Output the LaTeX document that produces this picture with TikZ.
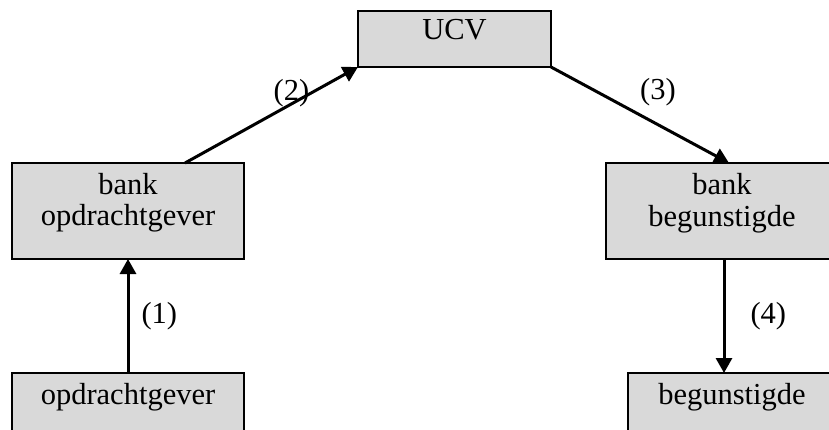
\documentclass[tikz,border=0pt]{standalone}
\usepackage{fontspec}
\setmainfont{Liberation Serif}
\usetikzlibrary{arrows.meta}
\usetikzlibrary{positioning}
\definecolor{gray1}{RGB}{217, 217, 217}

\begin{document}
\begin{tikzpicture}[x=1pt, y=-1pt, line width=3pt, >={Triangle[length=15pt,width=16pt]},
  box/.style={rectangle, draw, fill=gray1, line width=2.5pt, inner sep=0pt, outer sep=0pt},
  txt/.style={inner sep=0pt, align=center, font=\fontsize{30.5}{31.5}\selectfont}]
  \clip (0,0) rectangle (829,430);
  \node[box, minimum width=193pt, minimum height=56pt] (ucv) at (454.5,39) {};
  \node[box, minimum width=232pt, minimum height=96pt] (bankop) at (128,211) {};
  \node[box, minimum width=232pt, minimum height=96pt] (bankbeg) at (722,211) {};
  \node[box, minimum width=232pt, minimum height=87pt] (opdr) at (128,416.5) {};
  \node[box, minimum width=208pt, minimum height=87pt] (beg) at (732,416.5) {};
  \node[txt, below=7pt of ucv.north] (ucvt) {UCV};
  \node[txt, below=8.5pt of bankop.north] (bankopt) {bank\\opdrachtgever};
  \node[txt, below=9pt of bankbeg.north] (bankbegt) {bank\\begunstigde};
  \node[txt, below=8.5pt of opdr.north] (opdrt) {opdrachtgever};
  \node[txt, below=8.5pt of beg.north] (begt) {begunstigde};
  % betaalstroom
  \draw[->] (opdr) -- (bankop) node[txt, midway, right=12pt] (l1) {(1)};
  \draw[->] ([xshift=57pt]bankop.north) -- (ucv.south west)
    node[txt, midway, xshift=20pt, yshift=22pt] (l2) {(2)};
  \draw[->] (ucv.south east) -- ([xshift=7pt]bankbeg.north)
    node[txt, midway, xshift=18pt, yshift=23pt] (l3) {(3)};
  \draw[->] ([xshift=2pt]bankbeg.south) -- ([xshift=2pt]bankbeg.south |- beg.north)
    node[txt, midway, right=25pt] (l4) {(4)};
\end{tikzpicture}
\end{document}
